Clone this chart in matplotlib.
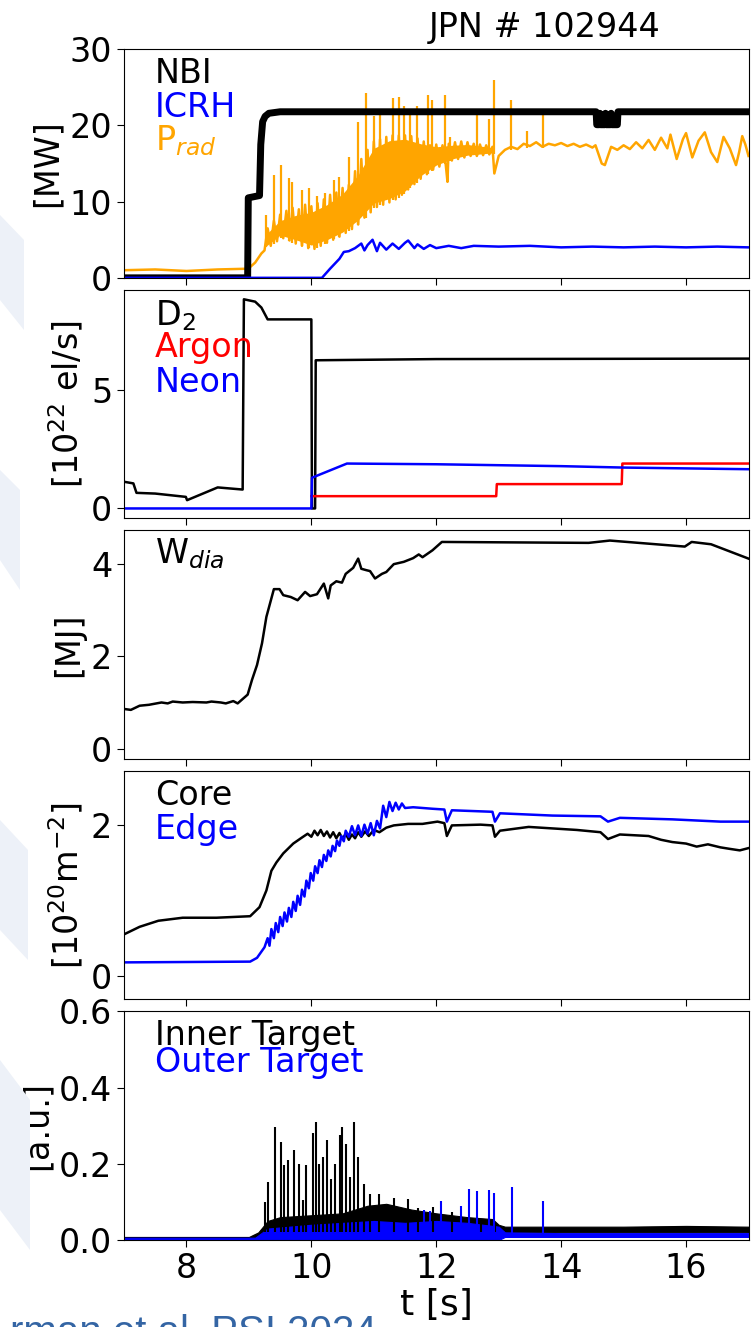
import matplotlib.pyplot as plt
from matplotlib.patches import Polygon

# ---------------- data ----------------
# panel 1: heating and radiated power [MW]
nbi_t = [7.0, 8.98, 8.99, 9.17, 9.19, 9.22, 9.26, 9.32, 9.5, 14.56, 14.57, 14.61, 14.62, 14.63,
         14.70, 14.71, 14.72, 14.79, 14.80, 14.81, 14.90, 14.91, 17.0]
nbi_v = [0, 0, 10.5, 10.8, 17.5, 20.5, 21.2, 21.6, 21.8, 21.8, 20.1, 20.1, 21.6, 20.1,
         20.1, 21.6, 20.1, 20.1, 21.6, 20.1, 20.1, 21.8, 21.8]

icrh_t = [7.0, 10.17, 10.3, 10.45, 10.52, 10.6, 10.7, 10.8, 10.85, 10.9, 10.98, 11.05, 11.1,
          11.2, 11.3, 11.4, 11.5, 11.55, 11.65, 11.7, 11.8, 11.9, 12.0, 12.2, 12.4, 12.6,
          13.0, 13.5, 14.0, 14.5, 15.0, 15.5, 16.0, 16.5, 17.0]
icrh_v = [0, 0, 1.2, 2.5, 3.4, 3.5, 3.9, 4.5, 3.6, 4.3, 5.0, 3.5, 4.6,
          3.7, 4.5, 3.8, 4.6, 4.9, 3.9, 4.4, 3.8, 4.3, 3.9, 4.2, 3.9, 4.2,
          4.1, 4.2, 4.0, 4.1, 4.0, 4.1, 4.0, 4.1, 4.0]

prad_t = [7.0, 7.5, 8.0, 8.5, 8.99, 9.1, 9.2,
          9.25, 9.30, 9.35, 9.40, 9.45, 9.50, 9.55, 9.60, 9.65, 9.70, 9.75, 9.80, 9.85, 9.90,
          9.95, 10.00, 10.05, 10.10, 10.15, 10.20, 10.25, 10.30, 10.35, 10.40, 10.45, 10.50,
          10.55, 10.60, 10.65, 10.70, 10.75, 10.80, 10.85, 10.90, 10.95, 11.00, 11.05, 11.10,
          11.15, 11.20, 11.25, 11.30, 11.35, 11.40, 11.45, 11.50, 11.55, 11.60, 11.65, 11.70,
          11.75, 11.80, 11.85, 11.90, 11.95, 12.00, 12.05, 12.10, 12.15, 12.18, 12.20, 12.25,
          12.30, 12.35, 12.40, 12.45, 12.50, 12.55, 12.60, 12.65, 12.70, 12.75, 12.80, 12.85,
          12.90, 12.93, 13.0, 13.1, 13.2, 13.3, 13.4,
          13.5, 13.6, 13.7, 13.8, 13.9, 14.0, 14.1, 14.2, 14.3, 14.4, 14.5, 14.55, 14.6,
          14.65, 14.7, 14.75, 14.8, 14.9, 15.0, 15.1, 15.2, 15.3, 15.4, 15.5, 15.6, 15.7,
          15.75, 15.85, 15.95, 16.0, 16.1, 16.2, 16.3, 16.4, 16.5, 16.6, 16.7, 16.8,
          16.85, 16.9, 16.95, 17.0]
prad_v = [1.0, 1.1, 0.9, 1.1, 1.2, 2.0, 3.2,
          3.6, 6.5, 4.2, 7.5, 4.8, 8.3, 5.2, 8.8, 4.9, 9.2, 4.5, 9.0, 4.2, 9.6,
          3.9, 9.4, 3.8, 9.8, 4.2, 10.3, 4.6, 10.9, 5.0, 11.2, 5.4, 11.8,
          5.9, 12.2, 6.4, 14.0, 7.0, 15.6, 7.9, 16.8, 8.6, 17.9, 9.3, 18.2,
          9.6, 18.5, 9.9, 18.7, 10.3, 18.7, 10.9, 18.7, 11.6, 18.6, 12.3, 18.3,
          13.0, 17.9, 13.6, 17.4, 14.2, 17.5, 14.6, 17.4, 15.0, 12.6, 17.6, 15.4,
          17.8, 15.6, 17.9, 15.8, 17.8, 16.0, 17.6, 16.0, 17.5, 16.1, 17.4, 16.2,
          17.2, 13.7, 16.0, 16.8, 17.2, 16.9, 17.6,
          17.3, 17.8, 17.2, 17.6, 17.4, 17.7, 17.3, 17.6, 17.2, 17.5, 17.1, 17.4, 16.2,
          15.0, 14.8, 16.0, 17.2, 16.8, 17.4, 16.9, 17.8, 17.0, 18.1, 16.8, 18.4, 17.0,
          18.8, 15.6, 18.2, 19.0, 15.8, 18.0, 19.1, 16.5, 15.2, 18.5, 17.0, 14.8,
          16.5, 18.6, 17.5, 16.0]
# core of the densely fluctuating Prad band
prad_env_t = [9.25, 9.5, 9.75, 10.0, 10.25, 10.5, 10.75, 11.0, 11.25, 11.5, 11.75, 12.0,
              12.25, 12.5, 12.9]
prad_env_lo = [4.0, 5.6, 5.0, 4.3, 5.0, 6.0, 7.6, 9.8, 10.4, 11.4, 13.4, 14.8,
               15.6, 16.1, 16.4]
prad_env_hi = [5.5, 7.5, 8.2, 8.6, 9.6, 11.0, 13.5, 17.0, 18.0, 18.2, 17.6, 17.2,
               17.4, 17.5, 17.1]
# isolated radiation spikes: time, base, top
prad_spike_t = [9.28, 9.4, 9.52, 9.64, 9.69, 9.85, 9.96, 10.09, 10.22, 10.36, 10.44, 10.6,
                10.75, 10.87, 11.0, 11.1, 11.3, 11.4, 11.48, 11.58, 11.69, 11.86, 11.93,
                12.14, 12.22, 12.65, 12.84, 12.92, 13.2, 13.45, 13.71]
prad_spike_lo = [4.0, 4.5, 5.2, 4.8, 4.6, 4.2, 3.9, 3.9, 4.4, 5.1, 5.4, 6.2,
                 7.0, 7.9, 9.2, 9.5, 10.2, 10.5, 11.0, 11.8, 12.5, 13.6, 14.0,
                 15.0, 15.3, 16.0, 16.2, 16.2, 16.8, 17.0, 17.0]
prad_spike_v = [8.3, 13.5, 14.8, 13.1, 12.6, 11.5, 11.8, 10.7, 11.1, 12.9, 13.3, 15.9,
                20.5, 24.2, 21.2, 22.1, 23.6, 23.8, 22.5, 21.9, 22.5, 24.0, 23.4,
                24.0, 18.5, 21.9, 20.8, 26.0, 23.3, 19.3, 21.4]

# panel 2: gas injection [1e22 el/s]
d2_t = [7.0, 7.15, 7.2, 7.5, 7.99, 8.01, 8.5, 8.9, 8.92, 9.1, 9.2, 9.3, 10.0, 10.01, 10.06,
        10.07, 12.0, 17.0]
d2_v = [1.13, 1.06, 0.66, 0.63, 0.49, 0.35, 0.89, 0.80, 8.85, 8.75, 8.5, 8.0, 8.0, 0.0, 0.0,
        6.27, 6.32, 6.34]
argon_t = [10.0, 12.96, 12.97, 14.97, 14.98, 17.0]
argon_v = [0.52, 0.52, 1.03, 1.03, 1.90, 1.90]
neon_t = [7.0, 10.0, 10.01, 10.57, 12.0, 14.0, 15.0, 17.0]
neon_v = [0.0, 0.0, 1.30, 1.90, 1.87, 1.79, 1.73, 1.66]

# panel 3: diamagnetic energy [MJ]
wdia_t = [7.0, 7.11, 7.25, 7.4, 7.6, 7.7, 7.78, 7.94, 8.1, 8.32, 8.4, 8.55, 8.63, 8.75, 8.82,
          8.98, 9.05, 9.13, 9.21, 9.28, 9.36, 9.4, 9.49, 9.55, 9.67, 9.78, 9.9, 9.98, 10.09,
          10.2, 10.27, 10.31, 10.4, 10.49, 10.55, 10.67, 10.75, 10.8, 10.88, 10.94, 11.02,
          11.13, 11.2, 11.32, 11.48, 11.63, 11.72, 11.78, 11.94, 12.09, 14.44, 14.78,
          15.98, 16.09, 16.4, 17.0]
wdia_v = [0.86, 0.84, 0.93, 0.95, 1.0, 0.98, 1.02, 1.0, 1.01, 1.0, 1.02, 1.0, 0.98, 1.03, 0.98,
          1.17, 1.49, 1.81, 2.28, 2.85, 3.25, 3.45, 3.45, 3.32, 3.28, 3.21, 3.39, 3.3, 3.34,
          3.57, 3.25, 3.53, 3.62, 3.59, 3.78, 3.91, 4.11, 3.89, 3.86, 3.84, 3.68,
          3.78, 3.82, 3.99, 4.04, 4.12, 4.2, 4.14, 4.29, 4.47, 4.45, 4.5,
          4.37, 4.47, 4.42, 4.11]

# panel 4: line integrated density [1e20 m^-2]
core_t = [7.0, 7.25, 7.55, 7.94, 8.48, 9.02, 9.17, 9.28, 9.36, 9.44, 9.55, 9.71, 9.85, 9.94,
          10.0, 10.05, 10.1, 10.15, 10.2, 10.25, 10.3, 10.35, 10.4, 10.45, 10.5, 10.55, 10.6,
          10.65, 10.7, 10.75, 10.8, 10.86, 10.92, 11.0, 11.09, 11.2, 11.32, 11.55, 11.78,
          12.02, 12.13, 12.17, 12.25, 12.71, 12.9, 12.94, 13.02, 13.48, 14.25, 14.63, 14.75,
          14.94, 15.4, 15.6, 15.78, 16.0, 16.17, 16.35, 16.55, 16.7, 16.86, 17.0]
core_v = [0.55, 0.65, 0.73, 0.77, 0.77, 0.79, 0.91, 1.13, 1.39, 1.5, 1.62, 1.75, 1.83, 1.88,
          1.84, 1.92, 1.86, 1.93, 1.85, 1.91, 1.83, 1.90, 1.82, 1.89, 1.81, 1.88, 1.80,
          1.87, 1.82, 1.90, 1.84, 1.91, 1.85, 1.93, 1.90, 1.96, 1.99, 2.01, 2.01,
          2.04, 2.02, 1.85, 1.99, 2.0, 1.99, 1.84, 1.92, 1.97, 1.93, 1.90, 1.81,
          1.87, 1.85, 1.80, 1.77, 1.75, 1.71, 1.74, 1.70, 1.68, 1.66, 1.69]
edge_t = [7.0, 9.02, 9.13, 9.25, 9.30, 9.33, 9.36, 9.40, 9.43, 9.47, 9.50, 9.54, 9.57, 9.61,
          9.64, 9.68, 9.71, 9.75, 9.78, 9.82, 9.85, 9.89, 9.92, 9.96, 9.99, 10.03, 10.06,
          10.10, 10.13, 10.17, 10.20, 10.24, 10.27, 10.31, 10.34, 10.38, 10.41, 10.45, 10.48,
          10.52, 10.55, 10.60, 10.65, 10.70, 10.75, 10.80, 10.85, 10.90, 10.95, 11.00, 11.05,
          11.10, 11.15, 11.20, 11.25, 11.30, 11.35, 11.40, 11.45, 11.5, 11.63, 11.94, 12.13,
          12.17, 12.25, 12.9, 12.94, 13.02, 13.86, 14.63, 14.75, 14.94, 15.78, 16.55, 17.0]
edge_v = [0.18, 0.19, 0.24, 0.38, 0.50, 0.40, 0.62, 0.50, 0.70, 0.58, 0.78, 0.66, 0.84, 0.72,
          0.90, 0.78, 0.98, 0.86, 1.06, 0.94, 1.14, 1.05, 1.26, 1.16, 1.36, 1.26, 1.45,
          1.36, 1.53, 1.44, 1.60, 1.52, 1.66, 1.58, 1.72, 1.65, 1.79, 1.72, 1.85,
          1.78, 1.92, 1.84, 1.98, 1.86, 1.99, 1.85, 2.00, 1.88, 2.02, 1.86, 2.05,
          1.95, 2.25, 2.10, 2.30, 2.18, 2.29, 2.20, 2.28, 2.22, 2.23, 2.21, 2.20,
          2.04, 2.19, 2.17, 2.04, 2.15, 2.12, 2.11, 2.04, 2.09, 2.07, 2.04, 2.04]

# panel 5: divertor target signals [a.u.]
inner_band_t = [7.0, 9.0, 9.15, 9.3, 9.5, 10.0, 10.5, 10.9, 11.2, 11.6, 12.0, 12.5, 12.9,
                13.0, 13.1, 14.0, 15.0, 16.0, 17.0]
inner_lo = [0.002, 0.002, 0.002, 0.01, 0.012, 0.015, 0.018, 0.02, 0.02, 0.02, 0.015, 0.015,
            0.018, 0.018, 0.02, 0.02, 0.02, 0.02, 0.02]
inner_hi = [0.008, 0.008, 0.02, 0.05, 0.06, 0.065, 0.07, 0.09, 0.095, 0.08, 0.07, 0.06, 0.055,
            0.04, 0.035, 0.035, 0.035, 0.037, 0.035]
inner_spike_t = [9.25, 9.31, 9.42, 9.52, 9.57, 9.63, 9.72, 9.8, 9.86, 9.92, 10.03, 10.08,
                 10.13, 10.18, 10.25, 10.32, 10.38, 10.46, 10.49, 10.55, 10.62, 10.68, 10.75,
                 10.85, 10.94, 11.09, 11.32, 11.55, 11.7, 11.94, 12.25, 12.71, 12.94]
inner_spike_v = [0.10, 0.153, 0.297, 0.258, 0.197, 0.21, 0.236, 0.2, 0.105, 0.197, 0.28, 0.31,
                 0.2, 0.218, 0.262, 0.16, 0.2, 0.275, 0.297, 0.253, 0.166, 0.31, 0.218,
                 0.148, 0.122, 0.122, 0.11, 0.107, 0.083, 0.087, 0.074, 0.052, 0.044]
outer_band_t = [7.0, 9.1, 9.3, 10.0, 10.5, 11.0, 11.5, 12.0, 12.5, 13.0, 13.1, 14.0, 17.0]
outer_lo = [0.0, 0.0, 0.0, 0.0, 0.0, 0.0, 0.0, 0.0, 0.0, 0.0, 0.008, 0.008, 0.008]
outer_hi = [0.006, 0.006, 0.03, 0.04, 0.045, 0.05, 0.045, 0.05, 0.045, 0.035, 0.02, 0.018, 0.018]
outer_spike_t = [11.8, 11.9, 12.08, 12.4, 12.53, 12.65, 12.85, 12.92, 13.21, 13.71]
outer_spike_v = [0.079, 0.075, 0.103, 0.089, 0.134, 0.129, 0.131, 0.124, 0.138, 0.102]

# ---------------- figure ----------------
plt.rcParams['font.family'] = 'DejaVu Sans'
plt.rcParams['mathtext.fontset'] = 'dejavusans'

W, H = 751, 1327
fig, axs = plt.subplots(5, 1, sharex=True, figsize=(W / 100, H / 100), dpi=100)
fig.subplots_adjust(left=124 / W, right=748.5 / W, top=1 - 49.3 / H, bottom=1 - 1240 / H,
                    hspace=12 / 228.5)

# faint slide watermark on the left border
for pts in [[(0, 215), (24, 240), (24, 330), (0, 300)],
            [(0, 470), (20, 490), (20, 590), (0, 560)],
            [(0, 820), (28, 850), (28, 960), (0, 930)],
            [(0, 1060), (30, 1100), (30, 1250), (0, 1210)]]:
    fig.patches.append(Polygon([(x / W, 1 - y / H) for x, y in pts], closed=True,
                               transform=fig.transFigure, facecolor='#edf1f8',
                               edgecolor='none', zorder=0))

fs = 24
ax = axs[0]
ax.fill_between(prad_env_t, prad_env_lo, prad_env_hi, color='orange', lw=0)
ax.vlines(prad_spike_t, prad_spike_lo, prad_spike_v, color='orange', lw=1.6)
ax.plot(prad_t, prad_v, color='orange', lw=1.8)
ax.plot(nbi_t, nbi_v, color='black', lw=5)
ax.plot(icrh_t, icrh_v, color='blue', lw=1.8)
ax.set_ylim(0, 30)
ax.set_yticks([0, 10, 20, 30])
ax.set_ylabel('[MW]', fontsize=fs)
ax.text(0.05, 0.8525, 'NBI', color='black', fontsize=fs, transform=ax.transAxes)
ax.text(0.05, 0.7036, 'ICRH', color='blue', fontsize=fs, transform=ax.transAxes)
ax.text(0.05, 0.559, r'P$_{rad}$', color='orange', fontsize=fs, transform=ax.transAxes)

ax = axs[1]
ax.plot(d2_t, d2_v, color='black', lw=1.8)
ax.plot(argon_t, argon_v, color='red', lw=1.8)
ax.plot(neon_t, neon_v, color='blue', lw=1.8)
ax.set_ylim(-0.42, 9.25)
ax.set_yticks([0, 5])
ax.set_ylabel(r'[$10^{22}$ el/s]', fontsize=fs)
ax.text(0.05, 0.844, r'D$_2$', color='black', fontsize=fs, transform=ax.transAxes)
ax.text(0.05, 0.708, 'Argon', color='red', fontsize=fs, transform=ax.transAxes)
ax.text(0.05, 0.552, 'Neon', color='blue', fontsize=fs, transform=ax.transAxes)

ax = axs[2]
ax.plot(wdia_t, wdia_v, color='black', lw=1.8)
ax.set_ylim(-0.22, 4.72)
ax.set_yticks([0, 2, 4])
ax.set_ylabel('[MJ]', fontsize=fs)
ax.text(0.05, 0.855, r'W$_{dia}$', color='black', fontsize=fs, transform=ax.transAxes)

ax = axs[3]
ax.plot(core_t, core_v, color='black', lw=1.8)
ax.plot(edge_t, edge_v, color='blue', lw=1.8)
ax.set_ylim(-0.31, 2.71)
ax.set_yticks([0, 2])
ax.set_ylabel(r'[$10^{20}$m$^{-2}$]', fontsize=fs)
ax.text(0.05, 0.849, 'Core', color='black', fontsize=fs, transform=ax.transAxes)
ax.text(0.05, 0.703, 'Edge', color='blue', fontsize=fs, transform=ax.transAxes)

ax = axs[4]
ax.fill_between(inner_band_t, inner_lo, inner_hi, color='black', lw=0.8)
ax.vlines(inner_spike_t, 0.02, inner_spike_v, color='black', lw=1.5)
ax.fill_between(outer_band_t, outer_lo, outer_hi, color='blue', lw=0.8)
ax.vlines(outer_spike_t, 0.01, outer_spike_v, color='blue', lw=1.5)
ax.set_ylim(0, 0.6)
ax.set_yticks([0.0, 0.2, 0.4, 0.6])
ax.set_ylabel('[a.u.]', fontsize=fs)
ax.set_xlabel('t [s]', fontsize=26, labelpad=2)
ax.text(0.05, 0.852, 'Inner Target', color='black', fontsize=fs, transform=ax.transAxes)
ax.text(0.05, 0.735, 'Outer Target', color='blue', fontsize=fs, transform=ax.transAxes)

for ax in axs:
    ax.set_xlim(7, 17)
    ax.tick_params(labelsize=fs, direction='out', length=5)
    ax.set_xticks([8, 10, 12, 14, 16])

fig.text(545 / W, 1 - 37.3 / H, 'JPN # 102944', fontsize=fs, ha='center', va='baseline')
fig.text(377 / W, 1 - 1344 / H, 'rman et al. PSI 2024', fontsize=29, color='#3465a4',
         family='Liberation Sans', ha='right', va='baseline')

fig.savefig('out.png', dpi=100)
